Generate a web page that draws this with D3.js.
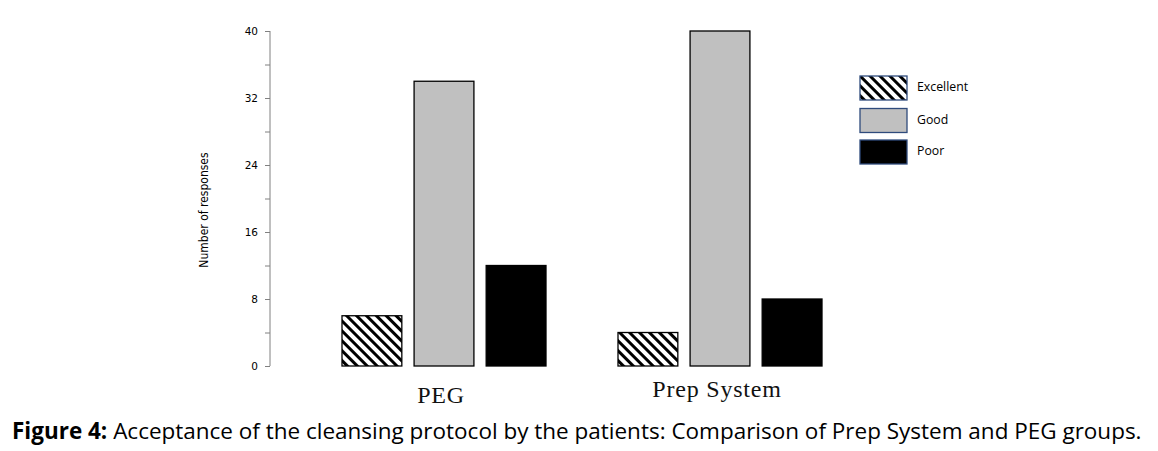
<!DOCTYPE html>
<html><head><meta charset="utf-8">
<script src="https://cdn.jsdelivr.net/npm/d3@7"></script>
<style>body{margin:0;background:#fff}svg{display:block}</style>
</head><body>
<svg id="c" width="1158" height="451"></svg>
<script>
const categories = ["PEG", "Prep System"];
const seriesNames = ["Excellent", "Good", "Poor"];
const excellent = [6, 4];
const good = [34, 40];
const poor = [12, 8];
const yTicks = [0, 8, 16, 24, 32, 40];
const yLabel = "Number of responses";
const captionBold = "Figure 4:";
const captionRest = " Acceptance of the cleansing protocol by the patients: Comparison of Prep System and PEG groups.";

const svg = d3.select("#c");
const defs = svg.append("defs");
const pat = defs.append("pattern").attr("id","hatch").attr("patternUnits","userSpaceOnUse")
  .attr("width",7).attr("height",7).attr("patternTransform","rotate(-45)");
pat.append("rect").attr("width",7).attr("height",7).attr("fill","#fff");
pat.append("rect").attr("width",3).attr("height",7).attr("fill","#000");

const fills = {Excellent:"url(#hatch)", Good:"#c0c0c0", Poor:"#000"};
const values = {Excellent: excellent, Good: good, Poor: poor};

const y = d3.scaleLinear().domain([0,40]).range([366,31]);
const x0 = d3.scaleBand().domain(categories).range([306,858]);
const x1 = d3.scaleBand().domain(seriesNames).range([36,240]).paddingInner(0.17);

// axis
const axisG = svg.append("g").attr("transform","translate(270,0)");
axisG.call(d3.axisLeft(y).tickValues(d3.range(0,41,4)).tickSize(5).tickFormat(d => yTicks.includes(d) ? d : ""));
axisG.select(".domain").attr("stroke","#808080").attr("d","M0,"+y(0)+"V"+y(40));
axisG.selectAll(".tick line").attr("stroke","#808080");
axisG.selectAll(".tick text").attr("font-family","'DejaVu Sans', sans-serif").attr("font-size",10.5).attr("fill","#000").attr("x",-12);

svg.append("text").attr("transform","translate(208,210) rotate(-90)").attr("text-anchor","middle")
  .attr("font-family","'Liberation Sans Narrow','DejaVu Sans Condensed',sans-serif").attr("font-size",12)
  .text(yLabel);

// bars
const groups = svg.selectAll("g.grp").data(categories).join("g").attr("class","grp")
  .attr("transform", d => `translate(${x0(d)},0)`);
groups.selectAll("rect").data((c,i) => seriesNames.map(s => ({s, v: values[s][i]}))).join("rect")
  .attr("x", d => x1(d.s)).attr("width", x1.bandwidth())
  .attr("y", d => y(d.v)).attr("height", d => y(0)-y(d.v))
  .attr("fill", d => fills[d.s]).attr("stroke","#000").attr("stroke-width",1.3);

// category labels
svg.selectAll("text.cat").data(categories).join("text").attr("class","cat")
  .attr("x", d => x0(d) + x0.bandwidth()/2 - 3).attr("y", (d,i) => i === 0 ? 403 : 397).attr("text-anchor","middle")
  .attr("font-family","'Liberation Serif','DejaVu Serif',serif").attr("font-size",24)
  .attr("letter-spacing",0.8).attr("fill","#111")
  .text(d => d);

// legend
const leg = svg.append("g");
const legY = [76, 108.5, 140];
seriesNames.forEach((s,i) => {
  leg.append("rect").attr("x",860).attr("y",legY[i]).attr("width",47).attr("height",24)
    .attr("fill",fills[s]).attr("stroke","#2f4b7c").attr("stroke-width",1.3);
  leg.append("text").attr("x",917).attr("y",legY[i]+15).attr("font-family","'Open Sans',sans-serif")
    .attr("font-size",12.3).text(s);
});

// caption
const cap = svg.append("text").attr("x",12).attr("y",439).attr("font-family","'Open Sans',sans-serif")
  .attr("font-size",20).attr("fill","#000");
cap.append("tspan").attr("font-weight","bold").text(captionBold);
cap.append("tspan").text(captionRest);
const w = cap.node().getComputedTextLength();
const target = 1130;
cap.attr("font-size", 20*target/w);
</script>
</body></html>
